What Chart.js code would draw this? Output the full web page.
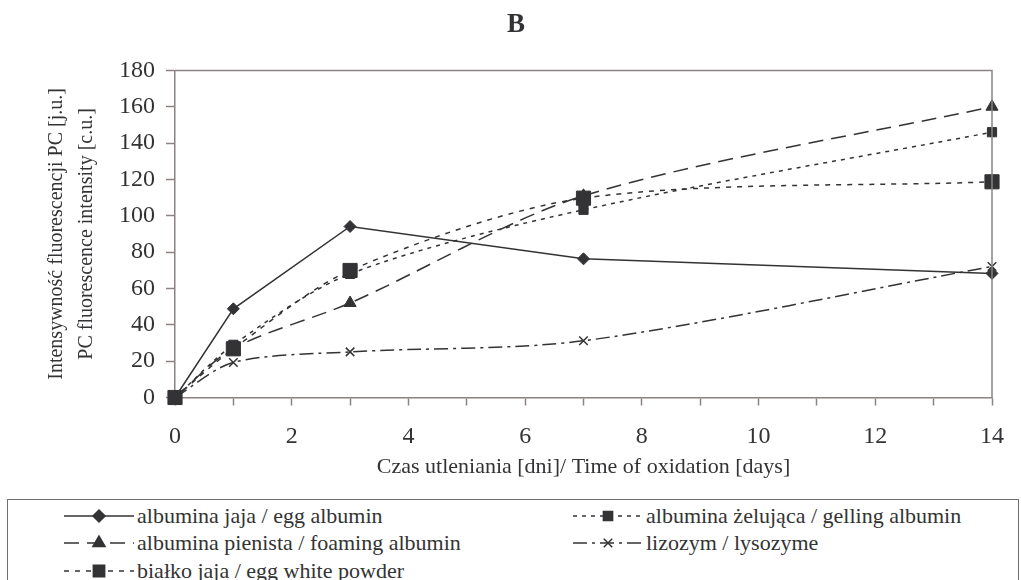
<!DOCTYPE html>
<html>
<head>
<meta charset="utf-8">
<script src="https://cdn.jsdelivr.net/npm/chart.js@4.4.0/dist/chart.umd.min.js"></script>
<style>
  body { margin: 0; background: #fff; font-family: "Liberation Serif", "DejaVu Serif", serif; }
  #wrap { position: relative; width: 1021px; height: 580px; overflow: hidden; }
  #box { position: absolute; left: 0; top: 0; width: 1021px; height: 490px; }
  #legend { position: absolute; left: 7px; top: 499px; width: 1012px; height: 100px;
            border: 1px solid #6e6e6e; box-sizing: border-box; }
  .item { position: absolute; height: 20px; display: flex; align-items: center;
          font-size: 22px; color: #333; white-space: nowrap; }
  .item canvas { margin-right: 3px; }
</style>
</head>
<body>
<div id="wrap">
  <div id="box"><canvas id="chart"></canvas></div>
  <div id="legend"></div>
</div>
<script>
"use strict";
const days = [0, 1, 3, 7, 14];
const eggAlbumin = [0, 48.8, 94.1, 76.3, 68.3];
const gellingAlbumin = [0, 29, 68, 103.3, 146];
const foamingAlbumin = [0, 27, 52, 111, 160];
const lysozyme = [0, 19.3, 25.1, 31.2, 72.1];
const eggWhitePowder = [0, 26.8, 69.9, 109.7, 118.7];
const seriesNames = [
    "albumina jaja / egg albumin",
    "albumina żelująca / gelling albumin",
    "albumina pienista / foaming albumin",
    "lizozym / lysozyme",
    "białko jaja / egg white powder"
];
const xTicks = [0, 2, 4, 6, 8, 10, 12, 14];
const yTicks = [0, 20, 40, 60, 80, 100, 120, 140, 160, 180];

const ink = "#333336";
const axisColor = "#8c8282";
const serif = "'Liberation Serif', 'DejaVu Serif', serif";

function pts(ys) {
    return days.map((d, i) => ({ x: d, y: ys[i] }));
}

// marker / dash per series, same order as seriesNames
const styles = [
    { data: eggAlbumin, dash: [], point: "rectRot", r: 6, tension: 0, order: 3 },
    { data: gellingAlbumin, dash: [4, 5], point: "rect", r: 6.5, tension: 0.3, order: 2 },
    { data: foamingAlbumin, dash: [15, 8], point: "triangle", r: 7, tension: 0.3, order: 4 },
    { data: lysozyme, dash: [14, 5, 3, 5], point: "crossRot", r: 6, tension: 0.3, order: 1 },
    { data: eggWhitePowder, dash: [5, 6], point: "rect", r: 10, tension: 0.3, order: 0 }
];

const datasets = styles.map((s, i) => ({
    label: seriesNames[i],
    data: pts(s.data),
    borderColor: ink,
    backgroundColor: ink,
    borderWidth: 1.5,
    borderDash: s.dash,
    pointStyle: s.point,
    pointRadius: s.r,
    pointBorderWidth: s.point === "crossRot" ? 1.5 : 1,
    pointBorderColor: ink,
    pointBackgroundColor: ink,
    tension: s.tension,
    order: s.order,
    clip: false
}));

const frame = {
    id: "frame",
    afterDraw(chart) {
        const a = chart.chartArea, c = chart.ctx;
        c.save();
        c.strokeStyle = axisColor;
        c.lineWidth = 1.5;
        c.beginPath();
        c.moveTo(a.left, a.top);
        c.lineTo(a.right, a.top);
        c.lineTo(a.right, a.bottom);
        c.stroke();
        c.restore();
    }
};

new Chart(document.getElementById("chart"), {
    type: "line",
    data: { datasets: datasets },
    plugins: [frame],
    options: {
        responsive: true,
        maintainAspectRatio: false,
        animation: false,
        layout: { padding: { left: 40, right: 29, top: 0, bottom: 0 } },
        plugins: {
            legend: { display: false },
            tooltip: { enabled: false },
            title: {
                display: true,
                text: "B",
                color: ink,
                font: { family: serif, size: 27, weight: "bold" },
                padding: { top: 9, bottom: 29 }
            }
        },
        scales: {
            x: {
                type: "linear",
                min: 0,
                max: 14,
                afterFit: (s) => { s.height = 92.5; },
                afterBuildTicks: (axis) => {
                    axis.ticks = [];
                    for (let v = 0; v <= 14; v++) axis.ticks.push({ value: v });
                },
                ticks: {
                    autoSkip: false,
                    maxRotation: 0,
                    padding: 17,
                    color: ink,
                    font: { family: serif, size: 24 },
                    callback: (v) => xTicks.includes(v) ? String(v) : ""
                },
                grid: { drawOnChartArea: false, tickLength: 8, color: axisColor, tickWidth: 1.5 },
                border: { color: axisColor, width: 1.5 },
                title: {
                    display: true,
                    text: "Czas utleniania [dni]/ Time of oxidation [days]",
                    color: ink,
                    font: { family: serif, size: 22 },
                    padding: { top: 0, bottom: 10 }
                }
            },
            y: {
                min: 0,
                max: 180,
                afterFit: (s) => { s.width = 135; },
                afterBuildTicks: (axis) => { axis.ticks = yTicks.map(v => ({ value: v })); },
                ticks: {
                    padding: 11,
                    color: ink,
                    font: { family: serif, size: 24 }
                },
                grid: { drawOnChartArea: false, tickLength: 9, color: axisColor, tickWidth: 1.5 },
                border: { color: axisColor, width: 1.5 },
                title: {
                    display: true,
                    text: ["Intensywność fluorescencji PC [j.u.]", "PC fluorescence intensity [c.u.]"],
                    color: ink,
                    font: { family: serif, size: 20, lineHeight: "30px" },
                    padding: { top: 2, bottom: 0 }
                }
            }
        }
    }
});

// legend built from the same series styles
const legendPos = [
    { left: 56, top: 6 },
    { left: 565, top: 6 },
    { left: 56, top: 33 },
    { left: 565, top: 33 },
    { left: 56, top: 61 }
];
const legend = document.getElementById("legend");
styles.forEach((s, i) => {
    const item = document.createElement("div");
    item.className = "item";
    item.style.left = legendPos[i].left + "px";
    item.style.top = legendPos[i].top + "px";
    const cv = document.createElement("canvas");
    cv.width = 70;
    cv.height = 20;
    const c = cv.getContext("2d");
    c.strokeStyle = ink;
    c.fillStyle = ink;
    c.lineWidth = 1.5;
    c.setLineDash(s.dash);
    c.beginPath();
    c.moveTo(0, 10);
    c.lineTo(70, 10);
    c.stroke();
    c.setLineDash([]);
    if (Chart.helpers && Chart.helpers.drawPoint) {
        Chart.helpers.drawPoint(c, {
            pointStyle: s.point,
            radius: Math.min(s.r, 8),
            rotation: 0,
            borderWidth: s.point === "crossRot" ? 1.5 : 1
        }, 35, 10);
    }
    item.appendChild(cv);
    const t = document.createElement("span");
    t.textContent = seriesNames[i];
    item.appendChild(t);
    legend.appendChild(item);
});
</script>
</body>
</html>
